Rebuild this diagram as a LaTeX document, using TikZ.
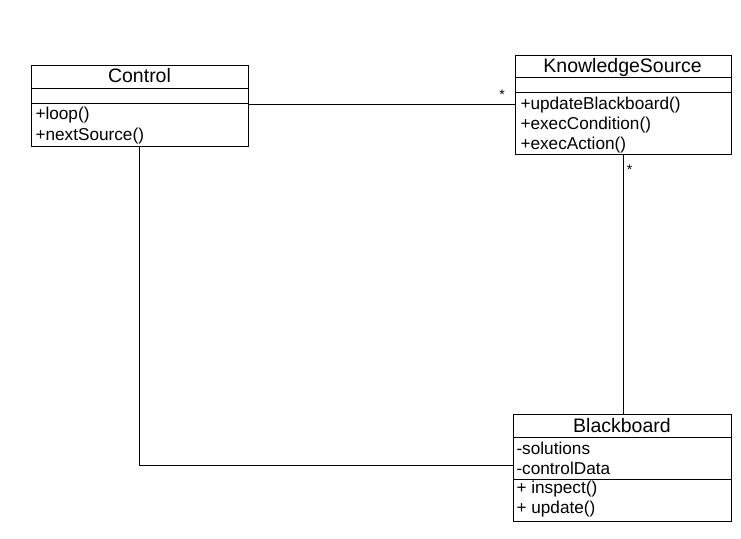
\documentclass[tikz,border=0pt]{standalone}
\usepackage{fontspec}
\setmainfont{Liberation Sans}
\begin{document}
\begin{tikzpicture}[x=1pt,y=1pt,
  line width=1pt,
  classbox/.style={draw, rectangle, inner sep=0pt, anchor=north west},
  titletext/.style={anchor=base, inner sep=0pt, font=\fontsize{19.5}{22}\selectfont},
  membertext/.style={anchor=base west, inner sep=0pt, font=\fontsize{17.2}{20}\selectfont},
  startext/.style={inner sep=0pt, font=\fontsize{14}{16}\selectfont},
  conn/.style={draw, line width=1pt}]
\useasboundingbox (0,0) rectangle (741,538);
% Control
\node[classbox, minimum width=217pt, minimum height=80.7pt] (ctrl) at (31,473) {};
\draw (ctrl.west |- 0,449.7) coordinate (ctrlA) -- (ctrl.east |- ctrlA);
\draw (ctrl.west |- 0,434) coordinate (ctrlB) -- (ctrl.east |- ctrlB);
\node[titletext] (ctrlT) at (139.5,455.3) {Control};
\node[membertext] (ctrlM1) at (35,418) {+loop()};
\node[membertext] (ctrlM2) at (35,397) {+nextSource()};
% KnowledgeSource
\node[classbox, minimum width=216.3pt, minimum height=99.5pt] (ks) at (514.5,483) {};
\draw (ks.west |- 0,460.3) coordinate (ksA) -- (ks.east |- ksA);
\draw (ks.west |- 0,445.3) coordinate (ksB) -- (ks.east |- ksB);
\node[titletext] (ksT) at (622.6,465.3) {KnowledgeSource};
\node[membertext] (ksM1) at (520,428) {+updateBlackboard()};
\node[membertext] (ksM2) at (520,408.3) {+execCondition()};
\node[membertext] (ksM3) at (520,388.6) {+execAction()};
% Blackboard
\node[classbox, minimum width=217.5pt, minimum height=106.7pt] (bb) at (513.3,124) {};
\draw (bb.west |- 0,100.3) coordinate (bbA) -- (bb.east |- bbA);
\draw (bb.west |- 0,58.7) coordinate (bbB) -- (bb.east |- bbB);
\node[titletext] (bbT) at (622,105.7) {Blackboard};
\node[membertext] (bbM1) at (516,84) {-solutions};
\node[membertext] (bbM2) at (516,63.7) {-controlData};
\node[membertext] (bbM3) at (516,44.5) {+ inspect()};
\node[membertext] (bbM4) at (516,24.5) {+ update()};
% connectors
\coordinate (c1) at (ctrl.east |- 0,433.5);
\draw[conn] (c1) -- (ks.west |- c1);
\node[startext] (s1) at (502,443) {*};
\coordinate (c2) at (623,0);
\draw[conn] (ks.south -| c2) -- (bb.north -| c2);
\node[startext] (s2) at (629.5,368) {*};
\coordinate (c3) at (139,72.3);
\draw[conn] (ctrl.south -| c3) -- (c3) -- (bb.west |- c3);
\end{tikzpicture}
\end{document}
